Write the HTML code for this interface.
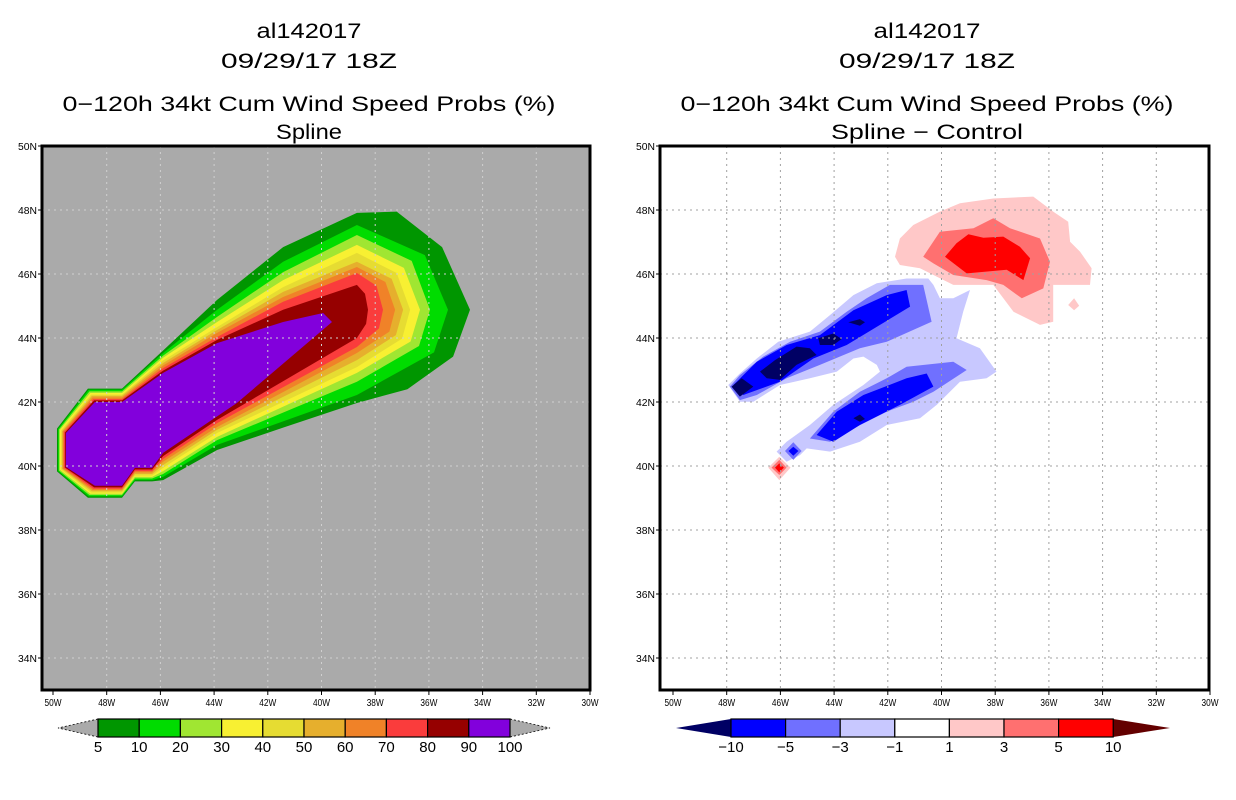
<!DOCTYPE html>
<html><head><meta charset="utf-8"><style>
html,body{margin:0;padding:0;background:#fff;}
svg{display:block;font-family:"Liberation Sans",sans-serif;}
</style></head><body>
<svg id="chart" width="1236" height="800" viewBox="0 0 1236 800" xmlns="http://www.w3.org/2000/svg">
<g id="titles">
<text x="309" y="38" font-size="21" text-anchor="middle" textLength="105" lengthAdjust="spacingAndGlyphs">al142017</text>
<text x="309" y="68" font-size="21" text-anchor="middle" textLength="176" lengthAdjust="spacingAndGlyphs">09/29/17 18Z</text>
<text x="309" y="111" font-size="21" text-anchor="middle" textLength="493" lengthAdjust="spacingAndGlyphs">0−120h 34kt Cum Wind Speed Probs (%)</text>
<text x="309" y="139" font-size="21" text-anchor="middle" textLength="66" lengthAdjust="spacingAndGlyphs">Spline</text>
<text x="927" y="38" font-size="21" text-anchor="middle" textLength="107" lengthAdjust="spacingAndGlyphs">al142017</text>
<text x="927" y="68" font-size="21" text-anchor="middle" textLength="176" lengthAdjust="spacingAndGlyphs">09/29/17 18Z</text>
<text x="927" y="111" font-size="21" text-anchor="middle" textLength="493" lengthAdjust="spacingAndGlyphs">0−120h 34kt Cum Wind Speed Probs (%)</text>
<text x="927" y="139" font-size="21" text-anchor="middle" textLength="192" lengthAdjust="spacingAndGlyphs">Spline − Control</text>
</g>
</svg>
<script>
// ---------- data ----------
const lonTicks = [-50,-48,-46,-44,-42,-40,-38,-36,-34,-32,-30];
const lonTickLabels = ["50W","48W","46W","44W","42W","40W","38W","36W","34W","32W","30W"];
const latTicks = [34,36,38,40,42,44,46,48,50];
const latTickLabels = ["34N","36N","38N","40N","42N","44N","46N","48N","50N"];

// Left panel: cumulative probability contours (outer -> inner)
const probLevels = [5,10,20,30,40,50,60,70,80,90];
const probColors = ["#009600","#00dc00","#a0e632","#f8f032","#e6dc32","#e6af2d","#f08228","#fa3c3c","#960000","#8200dc"];
const probBarLabels = ["5","10","20","30","40","50","60","70","80","90","100"];
const contour5 = [[-49.85,41.17],[-48.70,42.42],[-47.43,42.42],[-45.90,43.61],[-43.89,45.19],[-41.43,46.84],[-38.68,47.91],[-37.2,47.95],[-35.51,46.84],[-34.47,44.88],[-35.10,43.42],[-36.8,42.4],[-38.68,41.97],[-41.43,41.2],[-43.89,40.50],[-45.90,39.56],[-46.31,39.52],[-46.95,39.52],[-47.43,39.01],[-48.70,39.01],[-49.85,39.83]];
const contour10 = [[-49.81,41.16],[-48.67,42.38],[-47.43,42.38],[-45.90,43.53],[-43.89,44.88],[-41.43,46.38],[-38.68,47.53],[-36.15,46.59],[-35.29,44.88],[-35.81,43.55],[-38.68,42.22],[-43.89,40.66],[-45.90,39.66],[-46.31,39.56],[-46.95,39.56],[-47.43,39.05],[-48.67,39.05],[-49.81,39.84]];
const contour20 = [[-49.78,41.14],[-48.64,42.33],[-47.43,42.33],[-45.90,43.45],[-43.89,44.66],[-41.43,46.06],[-38.68,47.22],[-36.64,46.41],[-35.96,44.88],[-36.37,43.75],[-38.68,42.63],[-43.89,40.81],[-45.90,39.75],[-46.31,39.61],[-46.95,39.61],[-47.43,39.09],[-48.64,39.09],[-49.78,39.86]];
const contour30 = [[-49.74,41.13],[-48.61,42.28],[-47.43,42.28],[-45.90,43.38],[-43.89,44.50],[-41.43,45.81],[-38.68,46.91],[-36.93,46.19],[-36.33,44.88],[-36.68,43.89],[-38.68,42.91],[-43.89,40.91],[-45.90,39.84],[-46.31,39.66],[-46.95,39.66],[-47.43,39.13],[-48.61,39.13],[-49.74,39.88]];
const contour40 = [[-49.70,41.11],[-48.58,42.23],[-47.43,42.23],[-45.90,43.30],[-43.89,44.34],[-41.43,45.59],[-38.68,46.66],[-37.20,46.03],[-36.70,44.88],[-37.00,43.98],[-38.68,43.09],[-43.89,41.03],[-45.90,39.94],[-46.31,39.70],[-46.95,39.70],[-47.43,39.17],[-48.58,39.17],[-49.70,39.89]];
const contour50 = [[-49.66,41.09],[-48.55,42.19],[-47.43,42.19],[-45.90,43.22],[-43.89,44.25],[-41.43,45.44],[-38.68,46.38],[-37.39,45.85],[-36.96,44.88],[-37.23,44.09],[-38.68,43.31],[-43.89,41.13],[-45.90,40.03],[-46.31,39.75],[-46.95,39.75],[-47.43,39.21],[-48.55,39.21],[-49.66,39.91]];
const contour60 = [[-49.63,41.08],[-48.53,42.14],[-47.43,42.14],[-45.90,43.14],[-43.89,44.16],[-41.43,45.28],[-38.68,46.22],[-37.62,45.75],[-37.26,44.88],[-37.47,44.20],[-38.68,43.53],[-43.89,41.22],[-45.90,40.13],[-46.31,39.80],[-46.95,39.80],[-47.43,39.25],[-48.53,39.25],[-49.63,39.92]];
const contour70 = [[-49.59,41.06],[-48.50,42.09],[-47.43,42.09],[-45.90,43.06],[-43.89,44.03],[-41.43,45.13],[-38.68,46.03],[-37.95,45.63],[-37.71,44.88],[-37.86,44.30],[-38.68,43.72],[-43.89,41.34],[-45.90,40.22],[-46.31,39.84],[-46.95,39.84],[-47.43,39.29],[-48.50,39.29],[-49.59,39.94]];
const contour80 = [[-49.55,41.05],[-48.47,42.05],[-47.43,42.05],[-45.90,42.98],[-43.89,43.94],[-41.43,44.88],[-38.68,45.66],[-38.38,45.38],[-38.27,44.88],[-38.34,44.44],[-38.68,44.00],[-43.89,41.44],[-45.90,40.31],[-46.31,39.89],[-46.95,39.89],[-47.43,39.33],[-48.47,39.33],[-49.55,39.95]];
const contour90 = [[-49.52,41.03],[-48.44,42.00],[-47.43,42.00],[-45.90,42.91],[-43.89,43.84],[-41.43,44.50],[-39.94,44.78],[-39.61,44.50],[-43.15,41.97],[-45.90,40.41],[-46.31,39.94],[-46.95,39.94],[-47.43,39.38],[-48.44,39.38],[-49.52,39.97]];
const probContours = [contour5,contour10,contour20,contour30,contour40,contour50,contour60,contour70,contour80,contour90];

// Right panel: difference contours
const diffBarLabels = ["−10","−5","−3","−1","1","3","5","10"];
const diffColors = ["#000064","#0000ff","#7070ff","#c8c8ff","#ffffff","#ffc8c8","#ff7070","#ff0000","#640000"];
const negLight = [[-47.94,42.53],[-47.51,42.89],[-46.88,43.36],[-46.08,43.88],[-44.90,44.20],[-44.15,44.72],[-43.28,45.34],[-42.41,45.71],[-41.30,45.86],[-40.49,45.86],[-40.30,45.66],[-40.06,45.24],[-39.56,45.24],[-38.94,45.50],[-39.19,44.82],[-39.44,43.99],[-38.57,43.68],[-37.95,42.95],[-38.32,42.74],[-39.31,42.63],[-40.18,41.91],[-40.80,41.49],[-42.04,41.28],[-43.04,40.76],[-44.15,40.45],[-45.02,40.55],[-45.27,40.34],[-45.77,40.13],[-46.14,40.45],[-45.77,40.76],[-44.90,41.28],[-44.03,41.91],[-42.91,42.53],[-42.29,42.95],[-42.41,43.16],[-42.91,43.42],[-43.28,43.36],[-43.90,42.95],[-44.90,42.74],[-46.02,42.53],[-47.01,42.01],[-47.51,42.01]];
const negMedUpper = [[-47.88,42.48],[-47.51,42.84],[-46.64,43.42],[-45.64,43.88],[-44.53,44.20],[-43.53,44.82],[-42.79,45.24],[-41.92,45.66],[-40.68,45.66],[-40.37,44.51],[-42.04,43.88],[-43.04,43.68],[-44.53,43.16],[-45.77,42.74],[-46.88,42.22],[-47.51,42.06]];
const negMedLower = [[-44.90,40.86],[-44.03,41.70],[-43.04,42.32],[-42.04,42.74],[-41.30,43.10],[-39.56,43.26],[-39.06,43.00],[-40.30,42.32],[-41.05,42.01],[-42.04,41.70],[-43.53,41.07],[-44.15,40.76]];
const negMedDot = [[-45.83,40.47],[-45.52,40.74],[-45.21,40.47],[-45.52,40.19]];
const negBlueUpper = [[-47.75,42.53],[-46.88,43.26],[-45.77,43.78],[-44.53,44.09],[-43.28,44.87],[-42.04,45.34],[-41.30,45.50],[-41.17,44.98],[-42.29,44.41],[-43.53,43.78],[-44.77,43.36],[-46.02,42.63],[-47.38,42.22]];
const negBlueLower = [[-44.65,40.97],[-43.90,41.70],[-42.91,42.22],[-41.30,42.74],[-40.55,42.89],[-40.30,42.48],[-41.55,41.91],[-43.04,41.28],[-44.03,40.76]];
const negBlueDot = [[-45.70,40.47],[-45.52,40.60],[-45.33,40.47],[-45.52,40.32]];
const negDark1 = [[-47.82,42.48],[-47.44,42.74],[-47.01,42.48],[-47.51,42.17]];
const negDark2 = [[-46.76,42.95],[-46.20,43.31],[-45.40,43.73],[-44.90,43.68],[-44.65,43.47],[-45.40,43.16],[-46.02,42.69],[-46.51,42.74]];
const negDark3 = [[-44.59,43.99],[-44.03,44.14],[-43.72,43.97],[-44.03,43.78],[-44.53,43.78]];
const negDark4 = [[-43.47,44.49],[-43.04,44.59],[-42.85,44.49],[-43.04,44.38]];
const negDark5 = [[-43.28,41.49],[-43.04,41.61],[-42.85,41.47],[-43.04,41.38]];
const posLight = [[-41.73,46.54],[-41.55,47.11],[-41.05,47.53],[-40.06,47.95],[-39.31,48.21],[-38.07,48.36],[-36.58,48.42],[-35.84,47.95],[-35.28,47.63],[-35.21,47.01],[-34.84,46.70],[-34.41,46.18],[-34.47,45.66],[-35.84,45.66],[-35.84,44.51],[-36.33,44.41],[-37.32,44.82],[-38.07,45.66],[-38.81,45.66],[-39.56,45.66],[-40.18,45.92],[-40.80,46.18],[-41.55,46.28]];
const posLightDot = [[-35.28,45.03],[-35.06,45.24],[-34.87,45.01],[-35.06,44.87]];
const posLightDiamond = [[-46.45,39.95],[-46.04,40.29],[-45.62,39.95],[-46.04,39.56]];
const posMed = [[-40.68,46.54],[-40.06,47.32],[-38.81,47.43],[-38.07,47.74],[-37.45,47.43],[-36.33,47.11],[-35.96,46.38],[-36.21,45.55],[-37.01,45.24],[-37.70,45.66],[-38.32,45.81],[-39.56,45.97],[-40.30,46.33]];
const posMedDiamond = [[-46.33,39.95],[-46.04,40.19],[-45.77,39.95],[-46.04,39.72]];
const posRed = [[-39.87,46.54],[-39.44,46.96],[-39.00,47.24],[-38.44,47.13],[-37.70,47.17],[-37.08,46.85],[-36.70,46.49],[-36.95,45.81],[-37.57,46.13],[-39.06,46.02]];
const posRedDiamond = [[-46.20,39.95],[-46.04,40.08],[-45.87,39.95],[-46.04,39.80]];

// ---------- drawing ----------
const NS = "http://www.w3.org/2000/svg";
const svg = document.getElementById("chart");
const PX_PER_DEG_X = 26.85, PX_PER_DEG_Y = 32;
function yScale(lat){ return 146 + (50-lat)*PX_PER_DEG_Y; }
function makeX(x50){ return lon => x50 + (lon+50)*PX_PER_DEG_X; }
function el(tag, attrs, parent){
  const e = document.createElementNS(NS, tag);
  for (const k in attrs) e.setAttribute(k, attrs[k]);
  (parent||svg).appendChild(e);
  return e;
}
function ptsStr(arr, xs){ return arr.map(p => xs(p[0]).toFixed(1)+","+yScale(p[1]).toFixed(1)).join(" "); }

function drawPanel(prefix, frameL, frameR, x50, bg, fills){
  const xs = makeX(x50);
  const g = el("g", {});
  
  
  const bgRect = el("rect", {x:frameL, y:146, width:frameR-frameL, height:544, fill:bg}, g);
  
  
  fills(g, xs);
  const gridColor = bg === "#ffffff" ? "#a0a0a0" : "#d0d0d0";
  for (let i=1;i<lonTicks.length-1;i++){
    const gl = el("line", {x1:xs(lonTicks[i]), x2:xs(lonTicks[i]), y1:146, y2:690, stroke:gridColor, "stroke-width":1, "stroke-dasharray":"2,4"}, g);
    
    
  }
  for (let i=0;i<latTicks.length-1;i++){
    const gl = el("line", {x1:frameL, x2:frameR, y1:yScale(latTicks[i]), y2:yScale(latTicks[i]), stroke:gridColor, "stroke-width":1, "stroke-dasharray":"2,4"}, g);
    
    
  }
  const fr = el("rect", {x:frameL, y:146, width:frameR-frameL, height:544, fill:"none", stroke:"#000", "stroke-width":3}, g);
  
  
  for (let i=0;i<lonTicks.length;i++){
    const x = xs(lonTicks[i]);
    const t = el("line", {x1:x, x2:x, y1:690, y2:695, stroke:"#000", "stroke-width":1}, g);
    
    
    const lb = el("text", {x:x, y:706, "font-size":10, "text-anchor":"middle", textLength:17, lengthAdjust:"spacingAndGlyphs"}, g);
    lb.textContent = lonTickLabels[i];
    
    
  }
  for (let i=0;i<latTicks.length;i++){
    const y = yScale(latTicks[i]);
    const t = el("line", {x1:frameL-4, x2:frameL, y1:y, y2:y, stroke:"#000", "stroke-width":1}, g);
    
    
    const lb = el("text", {x:frameL-5, y:y+4, "font-size":10, "text-anchor":"end", textLength:19, lengthAdjust:"spacingAndGlyphs"}, g);
    lb.textContent = latTickLabels[i];
    
    
  }
}

drawPanel("left", 42, 590, 53, "#aaaaaa", (g, xs) => {
  for (let i=0;i<probContours.length;i++){
    const p = el("polygon", {points:ptsStr(probContours[i], xs), fill:probColors[i]}, g);
    
    
  }
});

const diffShapes = [
  [negLight,3,"neg-1"],[negMedUpper,2,"neg-3-upper"],[negMedLower,2,"neg-3-lower"],[negMedDot,2,"neg-3-dot"],
  [negBlueUpper,1,"neg-5-upper"],[negBlueLower,1,"neg-5-lower"],[negBlueDot,1,"neg-5-dot"],
  [negDark1,0,"neg-10-a"],[negDark2,0,"neg-10-b"],[negDark3,0,"neg-10-c"],[negDark4,0,"neg-10-d"],[negDark5,0,"neg-10-e"],
  [posLight,5,"pos-1"],[posLightDot,5,"pos-1-dot"],[posLightDiamond,5,"pos-1-diamond"],
  [posMed,6,"pos-3"],[posMedDiamond,6,"pos-3-diamond"],[posRed,7,"pos-5"],[posRedDiamond,7,"pos-5-diamond"]
];
drawPanel("right", 660, 1209, 673, "#ffffff", (g, xs) => {
  for (const s of diffShapes){
    const p = el("polygon", {points:ptsStr(s[0], xs), fill:diffColors[s[1]]}, g);
    
    
  }
});

function colorbar(prefix, x0, boxW, colors, leftTri, rightTri, labels, triL, triR, dashed){
  const n = colors.length;
  const g = el("g", {});
  
  
  const y0 = 719, y1 = 737, ym = 728;
  const lt = el("polygon", {points:`${x0},${y0} ${triL},${ym} ${x0},${y1}`, fill:leftTri, stroke:dashed?"#000":"none", "stroke-dasharray":"2,2", "stroke-width":0.8}, g);
  
  
  const xe = x0 + n*boxW;
  const rt = el("polygon", {points:`${xe},${y0} ${triR},${ym} ${xe},${y1}`, fill:rightTri, stroke:dashed?"#000":"none", "stroke-dasharray":"2,2", "stroke-width":0.8}, g);
  
  
  for (let i=0;i<n;i++){
    const r = el("rect", {x:x0+i*boxW, y:y0, width:boxW, height:y1-y0, fill:colors[i], stroke:"#000", "stroke-width":1.2}, g);
    
    
  }
  for (let i=0;i<labels.length;i++){
    const t = el("text", {x:x0+i*boxW, y:752, "font-size":15, "text-anchor":"middle"}, g);
    t.textContent = labels[i];
    
    
  }
}
colorbar("left", 98, 41.2, probColors, "#aaaaaa", "#aaaaaa", probBarLabels, 58, 550, true);
colorbar("right", 731, 54.6, diffColors.slice(1,8), diffColors[0], diffColors[8], diffBarLabels, 676, 1170, false);
</script>
</body></html>
